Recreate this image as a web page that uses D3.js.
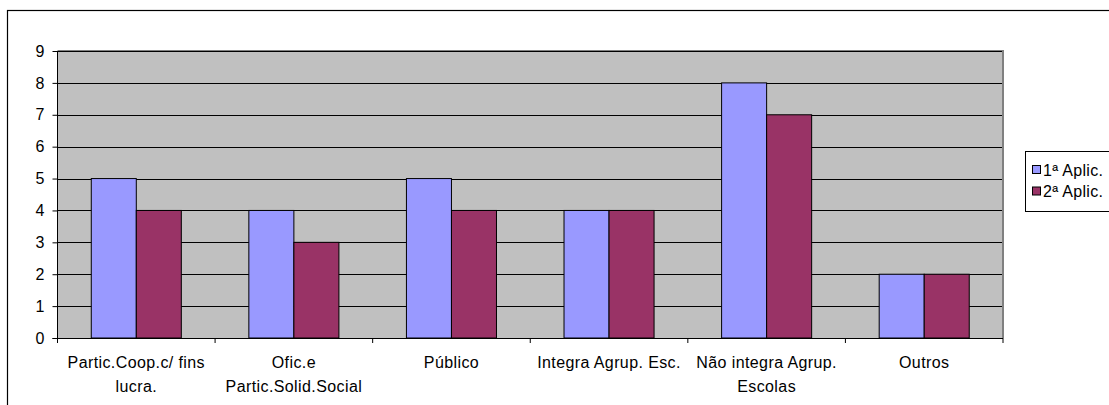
<!DOCTYPE html>
<html><head><meta charset="utf-8">
<script src="https://cdn.jsdelivr.net/npm/d3@7"></script>
<style>body{margin:0;background:#fff}svg{display:block}text{font-family:"Liberation Sans",Arial,sans-serif;font-size:16px;fill:#000}</style>
</head><body>
<svg id="c" width="1109" height="405"></svg>
<script>
const categories = ["Partic.Coop.c/ fins|lucra.", "Ofic.e|Partic.Solid.Social", "Público", "Integra Agrup. Esc.", "Não integra Agrup.|Escolas", "Outros"];
const seriesNames = ["1ª Aplic.", "2ª Aplic."];
const aplic1 = [5, 4, 5, 4, 8, 2];
const aplic2 = [4, 3, 4, 4, 7, 2];
const yTicks = [0,1,2,3,4,5,6,7,8,9];
const colors = ["#9999FF", "#993366"];

const svg = d3.select("#c");
const L = 57.5, R = 1003, T = 51, B = 338;

// outer chart border
svg.append("rect").attr("x",7.5).attr("y",10.5).attr("width",1200).attr("height",500)
  .attr("fill","none").attr("stroke","#000").attr("stroke-width",1.2);

const x = d3.scaleBand().domain(categories).range([L, R]).paddingInner(0).paddingOuter(0);
const y = d3.scaleLinear().domain([0, 9]).range([B, T]);

// plot area
svg.append("rect").attr("x",L).attr("y",T).attr("width",R-L).attr("height",B-T).attr("fill","#C0C0C0");
svg.append("path").attr("d",`M${L},${T}H${R}V${B}`).attr("fill","none").attr("stroke","#808080").attr("stroke-width",2);

// gridlines
svg.append("g").selectAll("line").data(yTicks.filter(d=>d>0)).join("line")
  .attr("x1",L).attr("x2",R-1).attr("y1",d=>Math.round(y(d))+0.5).attr("y2",d=>Math.round(y(d))+0.5)
  .attr("stroke","#000").attr("stroke-width",1);

// bars
const bw = x.bandwidth()/3.5;
const data = categories.map((c,i)=>({c, v:[aplic1[i], aplic2[i]]}));
const g = svg.append("g");
data.forEach(d=>{
  d.v.forEach((v,k)=>{
    const x0 = x(d.c) + (x.bandwidth()-2*bw)/2 + k*bw;
    g.append("rect").attr("x",x0).attr("y",y(v)).attr("width",bw).attr("height",y(0)-y(v))
      .attr("fill",colors[k]).attr("stroke","#000").attr("stroke-width",1);
  });
});

// y axis
const yAxis = d3.axisLeft(y).tickValues(yTicks).tickSize(5).tickPadding(8).tickFormat(d3.format("d"));
const ya = svg.append("g").attr("transform",`translate(${L},0)`).call(yAxis);
ya.select(".domain").attr("d",`M0,${T}V${B}`).attr("stroke","#000");
ya.selectAll(".tick line").attr("stroke","#000");
ya.selectAll("text").style("font-size","16px").style("font-family","'Liberation Sans',Arial,sans-serif").attr("fill","#000");

// x axis
const xa = svg.append("g").attr("transform",`translate(0,${B})`);
xa.append("line").attr("x1",L-5).attr("x2",R).attr("y1",0.5).attr("y2",0.5).attr("stroke","#000");
const bounds = categories.map(c=>x(c)).concat([R]);
xa.selectAll("line.t").data(bounds).join("line").attr("class","t")
  .attr("x1",d=>d).attr("x2",d=>d).attr("y1",0).attr("y2",5).attr("stroke","#000");
categories.forEach(c=>{
  const lines = c.split("|");
  const t = xa.append("text").attr("text-anchor","middle").attr("x",x(c)+x.bandwidth()/2).attr("y",30)
    .style("letter-spacing","0.4px");
  lines.forEach((ln,i)=>t.append("tspan").attr("x",x(c)+x.bandwidth()/2).attr("dy",i?23.5:0).text(ln));
});

// legend
const lg = svg.append("g");
lg.append("rect").attr("x",1025.5).attr("y",151.5).attr("width",120).attr("height",60)
  .attr("fill","#fff").attr("stroke","#000").attr("stroke-width",1);
seriesNames.forEach((n,i)=>{
  const cy = 170 + i*21.5;
  lg.append("rect").attr("x",1032.5).attr("y",cy-4.5).attr("width",8).attr("height",8)
    .attr("fill",colors[i]).attr("stroke","#000").attr("stroke-width",1);
  lg.append("text").attr("x",1043).attr("y",cy+5.5).style("letter-spacing","0.3px").text(n);
});
</script>
</body></html>
